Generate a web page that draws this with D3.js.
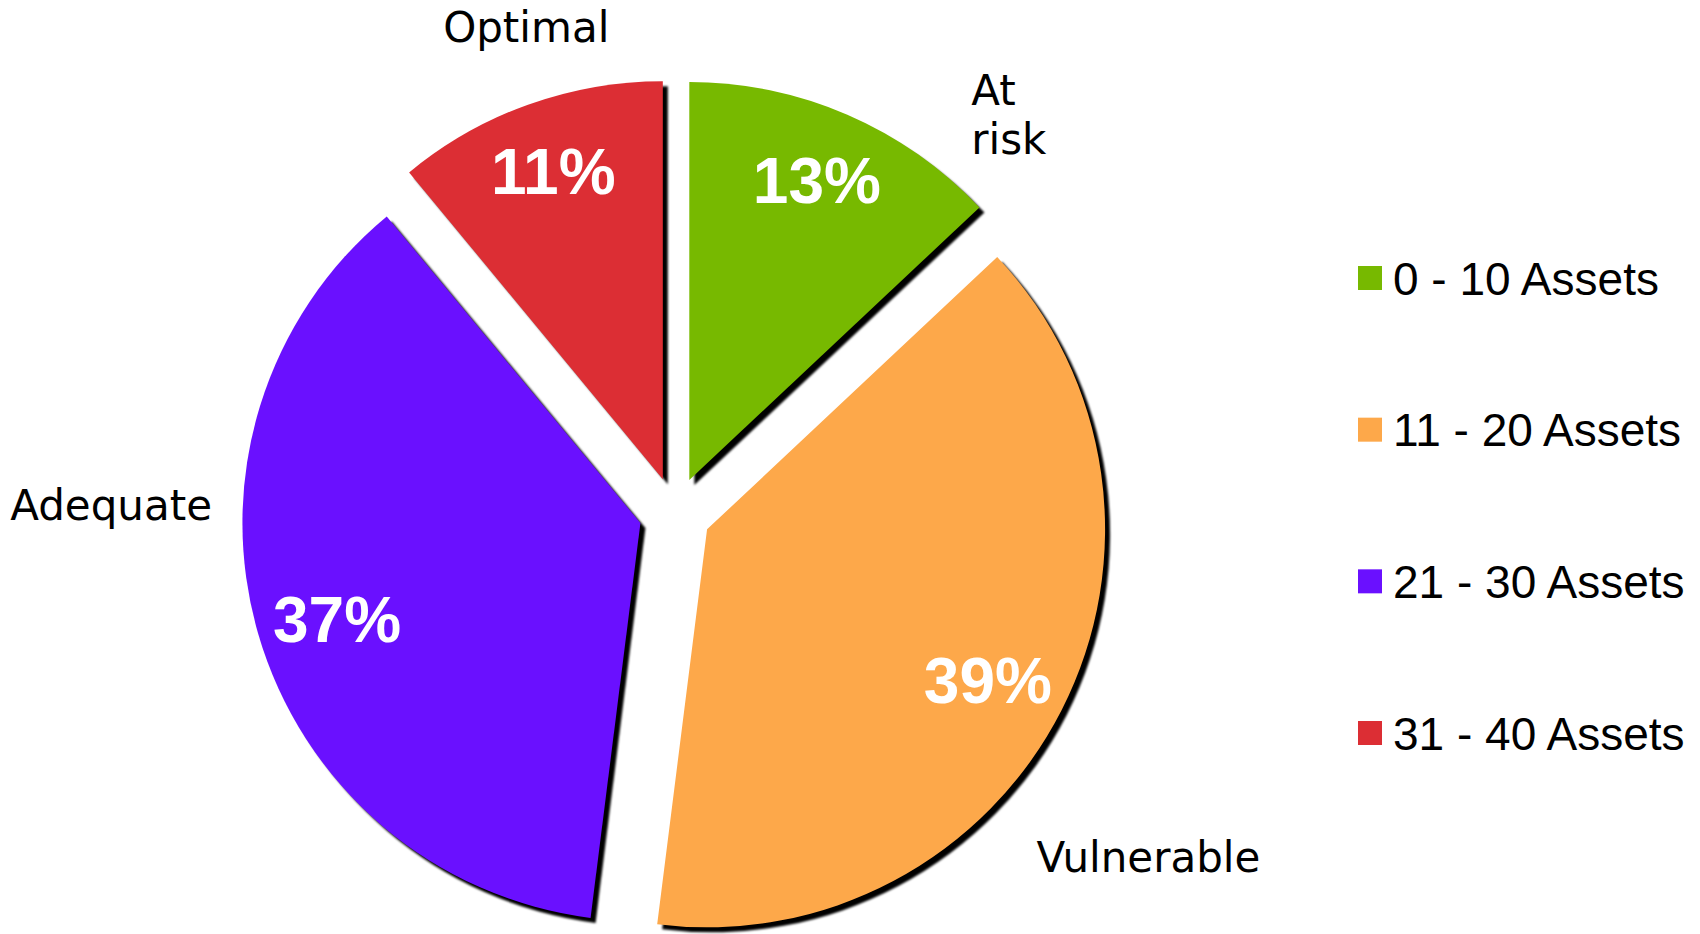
<!DOCTYPE html>
<html>
<head>
<meta charset="utf-8">
<script src="https://d3js.org/d3.v7.min.js"></script>
<style>
    body { margin: 0; background: #fff; }
    #chartDiv { width: 1700px; height: 934px; }
</style>
</head>
<body>
<div id="chartDiv"></div>
<script>

// data
let categories = ["0 - 10 Assets", "11 - 20 Assets", "21 - 30 Assets", "31 - 40 Assets"];
let sliceNames = ["At risk", "Vulnerable", "Adequate", "Optimal"];
let shares = [13, 39, 37, 11];
let sliceColors = ["#77b900", "#fda84a", "#6a10ff", "#dc2e34"];

// nudges for the labels (excel puts them wherever it likes)
let labelLayout = [
    {anchor: "start", dx: 116, dy: 9, pctDx: -2, pctDy: 0},
    {anchor: "start", dx: -43, dy: 153, pctDx: -10, pctDy: 2},
    {anchor: "end", dx: -27, dy: -120, pctDx: 10, pctDy: 5},
    {anchor: "middle", dx: 5, dy: -44, pctDx: 1, pctDy: -1}
];


class PieVis {

    constructor(parentElement) {
        this.parentElement = parentElement;
        this.displayData = [];
        this.initVis();
    }

    initVis() {
        let vis = this;

        vis.width = 1700;
        vis.height = 934;

        vis.svg = d3.select("#" + vis.parentElement).append("svg")
            .attr("width", vis.width)
            .attr("height", vis.height);

        // pie geometry
        vis.center = {x: 675, y: 513};
        vis.radius = 398;
        vis.explode = 36;

        // soft edge on the drop shadow
        vis.svg.append("defs").append("filter")
            .attr("id", "shadowBlur")
            .append("feGaussianBlur")
            .attr("stdDeviation", 0.8);

        vis.pieGroup = vis.svg.append("g")
            .attr("transform", `translate(${vis.center.x}, ${vis.center.y})`);

        vis.legend = vis.svg.append("g")
            .attr("class", "legend");

        vis.wrangleData();
    }

    wrangleData() {
        let vis = this;

        vis.displayData = shares.map((v, i) => ({
            category: categories[i],
            name: sliceNames[i],
            value: v,
            color: sliceColors[i],
            layout: labelLayout[i]
        }));

        vis.updateVis();
    }

    updateVis() {
        let vis = this;

        let pie = d3.pie().sort(null).value(d => d.value);
        let arcs = pie(vis.displayData);

        let arc = d3.arc().innerRadius(0).outerRadius(vis.radius);
        let pctArc = d3.arc().innerRadius(vis.radius * 0.82).outerRadius(vis.radius * 0.82);
        let outerArc = d3.arc().innerRadius(vis.radius + 20).outerRadius(vis.radius + 20);

        // offset along the bisector for the exploded look
        let shift = d => {
            let a = (d.startAngle + d.endAngle) / 2;
            return [vis.explode * Math.sin(a), -vis.explode * Math.cos(a)];
        };

        let slices = vis.pieGroup.selectAll(".slice").data(arcs)
            .enter()
            .append("g")
            .attr("class", "slice")
            .attr("transform", d => `translate(${shift(d)[0]}, ${shift(d)[1]})`);

        // shadow first
        slices.append("path")
            .attr("class", "shadow")
            .attr("d", arc)
            .attr("fill", "#000")
            .attr("transform", "translate(5, 5)")
            .attr("filter", "url(#shadowBlur)");

        slices.append("path")
            .attr("class", "wedge")
            .attr("d", arc)
            .attr("fill", d => d.data.color);

        // percentages inside
        slices.append("text")
            .attr("class", "pct")
            .attr("x", d => pctArc.centroid(d)[0] + d.data.layout.pctDx)
            .attr("y", d => pctArc.centroid(d)[1] + d.data.layout.pctDy)
            .attr("dy", "0.36em")
            .attr("text-anchor", "middle")
            .style("font-family", "'Liberation Sans', Arial, sans-serif")
            .style("font-weight", "bold")
            .style("font-size", "64px")
            .attr("fill", "#fff")
            .text(d => d.data.value + "%");

        // names outside
        slices.append("text")
            .attr("class", "name")
            .attr("x", d => outerArc.centroid(d)[0] + d.data.layout.dx)
            .attr("y", d => outerArc.centroid(d)[1] + d.data.layout.dy)
            .attr("text-anchor", d => d.data.layout.anchor)
            .style("font-family", "'DejaVu Sans', Verdana, sans-serif")
            .style("font-size", "42px")
            .attr("fill", "#000")
            .each(function(d) {
                // excel wrapped "At risk" onto two lines
                let words = d.data.name === "At risk" ? d.data.name.split(" ") : [d.data.name];
                let x = d3.select(this).attr("x");
                words.forEach((w, j) => {
                    d3.select(this).append("tspan")
                        .attr("x", x)
                        .attr("dy", j === 0 ? 0 : 49)
                        .text(w);
                });
            });

        // legend
        let legendY = d3.scalePoint()
            .domain(categories)
            .range([278, 733]);

        let items = vis.legend.selectAll(".item").data(vis.displayData)
            .enter()
            .append("g")
            .attr("class", "item")
            .attr("transform", d => `translate(1358, ${legendY(d.category)})`);

        items.append("rect")
            .attr("x", 0)
            .attr("y", -12)
            .attr("width", 24)
            .attr("height", 24)
            .attr("fill", d => d.color);

        items.append("text")
            .attr("x", 35)
            .attr("dy", "0.36em")
            .style("font-family", "'Liberation Sans', Arial, sans-serif")
            .style("font-size", "46px")
            .attr("fill", "#000")
            .text(d => d.category);
    }
}

let pieVis = new PieVis("chartDiv");

</script>
</body>
</html>
